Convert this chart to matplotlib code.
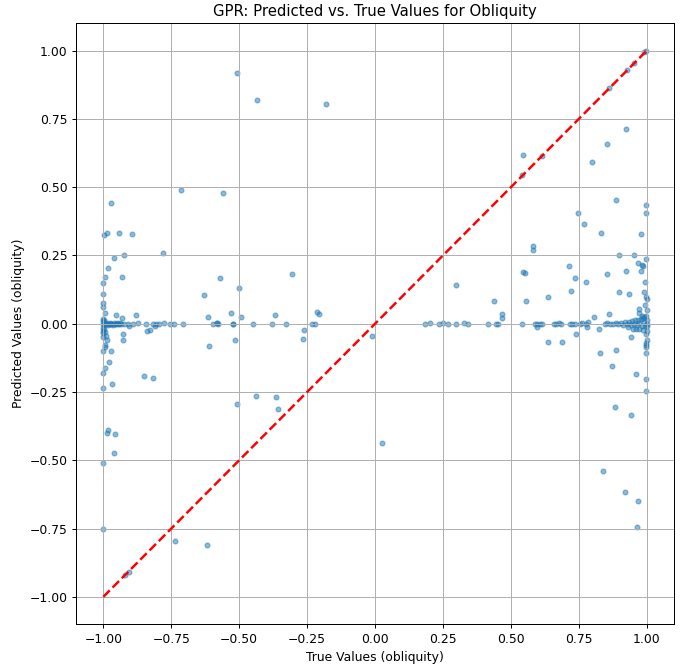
import matplotlib
matplotlib.use("Agg")
import matplotlib.pyplot as plt

# values
left_true = [-0.714, -0.561, -0.972, -0.999, -0.985, -0.944, -0.894, -0.782, -0.923, -0.959,
             -0.982, -0.994, -0.931, -1.0, -0.569, -0.499, -0.628, -1.0, -1.0, -0.992,
             -0.953, -0.931, -0.878, -0.613, -0.530, -0.494, -0.370, -1.0,
             -0.907, -0.810, -0.840, -0.830, -0.929, -0.929, -0.986, -0.993, -0.994, -1.0,
             -0.972, -0.978, -0.994, -1.0, -0.611, -0.515, -0.852, -0.817, -0.969, -1.0,
             -0.508, -0.439, -0.365, -0.357, -0.984, -0.986, -0.956, -0.961, -1.0, -1.0,
             -0.738, -0.617, -0.919, -0.904,
             -1.0, -1.0, -1.0, -1.0, -1.0, -1.0, -0.998, -0.996, -0.995, -0.99]
left_pred = [0.490, 0.477, 0.442, 0.325, 0.331, 0.332, 0.327, 0.259, 0.250, 0.242,
             0.203, 0.172, 0.170, 0.149, 0.166, 0.131, 0.105, 0.109, 0.074, 0.038,
             0.032, 0.022, 0.032, 0.023, 0.041, 0.026, 0.032, 0.019,
             -0.010, -0.010, -0.026, -0.023, -0.039, -0.059, -0.061, -0.078, -0.086, -0.101,
             -0.101, -0.139, -0.164, -0.181, -0.082, -0.059, -0.192, -0.199, -0.219, -0.236,
             -0.294, -0.266, -0.269, -0.313, -0.388, -0.399, -0.405, -0.473, -0.509, -0.753,
             -0.796, -0.812, -0.920, -0.908,
             0.06, 0.01, -0.015, -0.025, -0.035, -0.048, -0.02, 0.012, -0.03, -0.045]

mid_true = [-0.509, -0.436, -0.181, -0.307, -0.583, -0.214, -0.207, -0.260, -0.267, -0.013,
            0.024, 0.299]
mid_pred = [0.916, 0.818, 0.806, 0.183, 0.004, 0.043, 0.036, -0.024, -0.057, -0.045,
            -0.436, 0.142]

# points lying on the predicted ~ 0 band
zero_true = [-1.0, -0.997, -0.993, -0.99, -0.987, -0.983, -0.98, -0.977, -0.973, -0.97,
             -0.966, -0.962, -0.958, -0.954, -0.95, -0.946, -0.942, -0.938, -0.935,
             -0.923, -0.910, -0.892, -0.873, -0.843, -0.818, -0.806, -0.794, -0.775,
             -0.753, -0.741, -0.706, -0.597, -0.581, -0.577, -0.524, -0.521, -0.448,
             -0.379, -0.327, -0.231, -0.220,
             0.185, 0.203, 0.234, 0.251, 0.268, 0.297, 0.327, 0.341, 0.415, 0.446,
             0.452, 0.542, 0.587, 0.596, 0.606, 0.613, 0.660, 0.667, 0.677, 0.686,
             0.716, 0.725, 0.735, 0.753, 0.760, 0.778, 0.785,
             0.845, 0.855, 0.865, 0.875, 0.885, 0.895, 0.905, 0.912, 0.92, 0.927,
             0.934, 0.94, 0.946, 0.952, 0.958, 0.963, 0.968, 0.973, 0.977, 0.981,
             0.985, 0.988, 0.991, 0.994, 0.997, 1.0]
zero_pred = [0.0, -0.003, 0.002, -0.002, 0.001, -0.004, 0.0, 0.003, -0.002, 0.0,
             -0.003, 0.001, 0.0, -0.002, 0.002, 0.0, -0.001, 0.001, 0.0,
             -0.001, 0.0, 0.0, 0.001, 0.0, 0.0, -0.001, 0.0, 0.001,
             0.0, 0.0, 0.0, 0.0, 0.001, 0.0, 0.0, 0.0, 0.0,
             0.0, 0.0, 0.0, 0.0,
             0.0, 0.002, 0.0, 0.003, 0.0, 0.0, 0.002, 0.0, 0.0, 0.0,
             0.0, 0.0, 0.0, 0.0, -0.002, 0.0, 0.0, 0.0, 0.001, 0.0,
             0.0, 0.0, 0.0, 0.0, 0.003, 0.0, 0.007,
             0.0, 0.002, 0.0, -0.002, 0.003, 0.0, 0.004, -0.003, 0.006, 0.0,
             0.008, -0.004, 0.01, 0.0, 0.012, -0.006, 0.014, 0.003, 0.016, -0.008,
             0.02, 0.005, 0.024, -0.01, 0.03, 0.0]

right_true = [0.996, 0.989, 0.951, 0.926, 0.860, 0.923, 0.852, 0.797, 0.543, 0.614,
              0.541, 0.888, 0.996, 0.996, 0.748, 0.769, 0.833, 0.979, 0.581, 0.581,
              0.897, 0.952, 0.996, 0.967, 0.981, 0.985, 0.715, 0.543, 0.550, 0.923,
              0.979, 0.852, 0.737, 0.775, 0.993, 0.721, 0.899, 0.935, 0.988, 0.996,
              0.635, 0.438, 0.557, 0.993, 0.971, 0.468, 0.468, 0.971, 0.982, 0.859,
              0.804, 0.597, 0.780, 0.824, 0.95, 0.96, 0.97, 0.985, 0.931, 0.740,
              0.941, 0.996, 0.638, 0.688, 0.996, 0.996, 0.996, 0.996, 0.829, 0.885,
              0.872, 0.961, 0.996, 0.996, 0.883, 0.943, 0.839, 0.921, 0.969, 0.964,
              1.0, 1.0, 1.0, 1.0, 1.0, 1.0]
right_pred = [1.0, 0.993, 0.954, 0.929, 0.863, 0.713, 0.659, 0.592, 0.618, 0.614,
              0.543, 0.452, 0.433, 0.404, 0.404, 0.364, 0.333, 0.327, 0.286, 0.270,
              0.252, 0.252, 0.236, 0.222, 0.214, 0.211, 0.211, 0.188, 0.187, 0.194,
              0.194, 0.183, 0.168, 0.153, 0.154, 0.120, 0.117, 0.109, 0.115, 0.096,
              0.098, 0.084, 0.084, 0.070, 0.055, 0.035, 0.020, 0.038, 0.029, 0.035,
              0.023, -0.013, -0.013, -0.020, -0.018, -0.020, -0.019, -0.022, -0.011, -0.037,
              -0.048, -0.038, -0.068, -0.066, -0.072, -0.078, -0.084, -0.107, -0.109, -0.098,
              -0.154, -0.184, -0.201, -0.248, -0.306, -0.336, -0.540, -0.615, -0.650, -0.745,
              0.05, 0.015, -0.01, -0.025, 0.09, -0.06]

true_vals = left_true + mid_true + zero_true + right_true
pred_vals = left_pred + mid_pred + zero_pred + right_pred

# lower dpi so text and lines come out a bit smaller, like the reference
dpi = 89
fig = plt.figure(figsize=(686 / dpi, 664 / dpi), dpi=dpi)
plt.subplots_adjust(left=0.111, right=0.9825, top=0.965, bottom=0.060)
plt.scatter(true_vals, pred_vals, alpha=0.5, s=15)
plt.plot([-1, 1], [-1, 1], "r--", lw=2)
plt.xlabel("True Values (obliquity)")
plt.ylabel("Predicted Values (obliquity)")
plt.title("GPR: Predicted vs. True Values for Obliquity")
plt.grid(True)
plt.savefig("out.png", dpi=dpi)
